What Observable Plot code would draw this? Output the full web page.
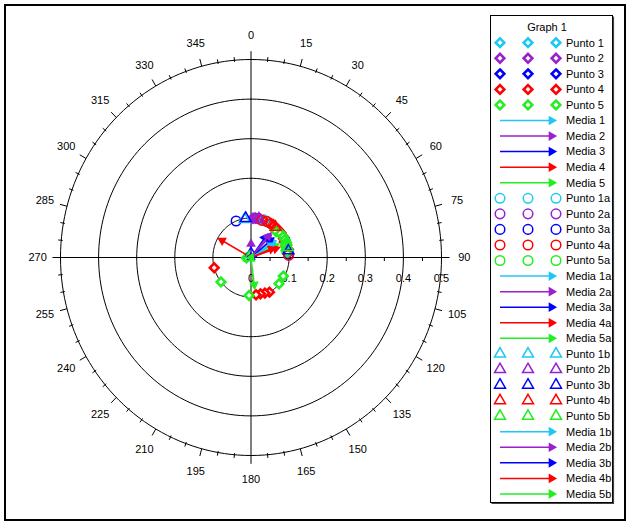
<!DOCTYPE html>
<html><head><meta charset="utf-8">
<script src="https://cdn.jsdelivr.net/npm/d3@7"></script>
<script src="https://cdn.jsdelivr.net/npm/@observablehq/plot@0.6"></script>
<style>
body{margin:0;background:#fff;font-family:"Liberation Sans",Arial,sans-serif;}
#chart{position:relative;width:629px;height:522px;}
</style></head><body><div id="chart"></div>
<script>
// ---- data: [angle (deg, clockwise from north), radius] ----
const colorNames = ["#1ec8f5", "#9b1fcc", "#0000ff", "#ff0000", "#22ee22"];
const angleLabels = [0,15,30,45,60,75,90,105,120,135,150,165,180,195,210,225,240,255,270,285,300,315,330,345];
const radialLabels = [0,0.1,0.2,0.3,0.4,0.5];
const ringRadii = [0.1,0.2,0.3,0.4,0.5];

const punto1 = [[28,0.1],[40,0.1],[52,0.1]];
const punto2 = [[3,0.099],[7,0.1],[11,0.1],[15,0.1],[20,0.1],[25,0.1]];
const punto3 = [[45,0.1],[60,0.1]];
const punto4 = [[22,0.1],[27,0.1],[32,0.1],[36,0.1],[41,0.1],[46,0.1],[51,0.1],[56,0.099],[61,0.098],[66,0.096],[72,0.098],[78,0.1],[84,0.098],[151,0.1],[158,0.097],[165,0.095],[172,0.095],[255,0.1]];
const punto5 = [[45,0.093],[52,0.098],[58,0.1],[63,0.1],[68,0.098],[72,0.095],[76,0.097],[79,0.094],[83,0.095],[119,0.097],[132,0.099],[183,0.096],[232,0.1],[265,0.012]];
const media1 = [[52,0.078]];
const media2 = [[0,0.047]];
const media3 = [[36,0.074]];
const media4 = [[299.5,0.1]];
const media5 = [[65,0.082]];
const punto1a = [[20,0.1]];
const punto2a = [[5,0.1],[10,0.1]];
const punto3a = [[337,0.1],[85,0.099]];
const punto4a = [[17,0.098],[25,0.1],[32,0.1],[87,0.099]];
const punto5a = [[70,0.1]];
const media1a = [[57,0.08]];
const media2a = [[43,0.08]];
const media3a = [[50,0.079]];
const media4a = [[71,0.081]];
const media5a = [[173,0.082]];
const punto1b = [[350,0.098]];
const punto2b = [[12,0.1]];
const punto3b = [[352,0.1],[80,0.1],[0,0.01]];
const punto4b = [[40,0.1]];
const punto5b = [[75,0.1],[270,0.005]];
const media1b = [[60,0.075]];
const media2b = [[40,0.083]];
const media3b = [[0,0.014]];
const media4b = [[68,0.07]];
const media5b = [[262,0.012]];

const series = [
  ["Punto 1","diamond",punto1,0],["Punto 2","diamond",punto2,1],["Punto 3","diamond",punto3,2],["Punto 4","diamond",punto4,3],["Punto 5","diamond",punto5,4],
  ["Media 1","arrow",media1,0],["Media 2","arrow",media2,1],["Media 3","arrow",media3,2],["Media 4","arrow",media4,3],["Media 5","arrow",media5,4],
  ["Punto 1a","circle",punto1a,0],["Punto 2a","circle",punto2a,1],["Punto 3a","circle",punto3a,2],["Punto 4a","circle",punto4a,3],["Punto 5a","circle",punto5a,4],
  ["Media 1a","arrow",media1a,0],["Media 2a","arrow",media2a,1],["Media 3a","arrow",media3a,2],["Media 4a","arrow",media4a,3],["Media 5a","arrow",media5a,4],
  ["Punto 1b","triangle",punto1b,0],["Punto 2b","triangle",punto2b,1],["Punto 3b","triangle",punto3b,2],["Punto 4b","triangle",punto4b,3],["Punto 5b","triangle",punto5b,4],
  ["Media 1b","arrow",media1b,0],["Media 2b","arrow",media2b,1],["Media 3b","arrow",media3b,2],["Media 4b","arrow",media4b,3],["Media 5b","arrow",media5b,4]
];

// ---- helpers ----
const rad = a => a*Math.PI/180;
const X = (a,r) => r*Math.sin(rad(a));
const Y = (a,r) => r*Math.cos(rad(a));

const ringPts = ringRadii.flatMap(r => d3.range(0,361,2).map(a => ({ring:r, x:X(a,r), y:Y(a,r)})));
const outerTicks = d3.range(0,360,5).filter(a => a%90 !== 0).map(a => ({a, major: a%15===0}));
const radialMinor = [0.05,0.15,0.25,0.35,0.45];

const marks = [
  Plot.line(ringPts, {x:"x", y:"y", z:"ring", stroke:"black", strokeWidth:1}),
  Plot.link([0,90], {x1:a=>X(a+180,0.521), y1:a=>Y(a+180,0.521), x2:a=>X(a,0.521), y2:a=>Y(a,0.521), stroke:"black", strokeWidth:1}),
  Plot.link(outerTicks, {x1:d=>X(d.a, d.major?0.5:0.496), y1:d=>Y(d.a, d.major?0.5:0.496), x2:d=>X(d.a, d.major?0.519:0.508), y2:d=>Y(d.a, d.major?0.519:0.508), stroke:"black", strokeWidth:1}),
  Plot.link(radialMinor, {x1:d=>d, y1:0, x2:d=>d, y2:-0.009, stroke:"black", strokeWidth:1}),
  Plot.text(radialLabels, {x:d=>d, y:0, dy:21, text:d=>String(d), fill:"black", fontSize:11}),
  Plot.text(angleLabels, {x:a=>X(a,0.56), y:a=>Y(a,0.56), text:a=>String(a), fill:"black", fontSize:11})
];

const HEAD_BACK = 5/390;
for (const [name, kind, data, ci] of series) {
  const c = colorNames[ci];
  if (kind === "arrow") {
    marks.push(Plot.link(data, {x1:0, y1:0, x2:d=>X(d[0], d[1]-HEAD_BACK), y2:d=>Y(d[0], d[1]-HEAD_BACK), stroke:c, strokeWidth:1.5}));
    marks.push(Plot.dot(data, {x:d=>X(d[0], d[1]-HEAD_BACK), y:d=>Y(d[0], d[1]-HEAD_BACK), symbol:"triangle", r:3.6, fill:c, stroke:"none", rotate:d=>d[0]}));
  } else if (kind === "diamond") {
    marks.push(Plot.dot(data, {x:d=>X(d[0],d[1]), y:d=>Y(d[0],d[1]), symbol:"diamond2", r:3.9, stroke:c, strokeWidth:2.6, fill:"white"}));
  } else if (kind === "circle") {
    marks.push(Plot.dot(data, {x:d=>X(d[0],d[1]), y:d=>Y(d[0],d[1]), symbol:"circle", r:4.8, stroke:c, strokeWidth:1.5, fill:"none"}));
  } else {
    marks.push(Plot.dot(data, {x:d=>X(d[0],d[1]), y:d=>Y(d[0],d[1]), symbol:"triangle2", r:5.2, stroke:c, strokeWidth:1.5, fill:"none"}));
  }
}

const chart = Plot.plot({
  width:629, height:522,
  marginTop:0, marginRight:0, marginBottom:0, marginLeft:0,
  x:{domain:[-0.5,0.5], range:[60,441], axis:null},
  y:{domain:[-0.5,0.5], range:[455,59], axis:null},
  style:{fontFamily:'"Liberation Sans", Arial, sans-serif', fontSize:"11px", background:"white", overflow:"visible"},
  marks
});
document.getElementById("chart").appendChild(chart);

// ---- frame and legend ----
const svg = d3.select(chart);
svg.append("rect").attr("x",5).attr("y",5).attr("width",620).attr("height",515)
  .attr("fill","none").attr("stroke","black").attr("stroke-width",2);

const lg = svg.append("g").attr("font-family",'"Liberation Sans", Arial, sans-serif').attr("font-size",11).attr("text-anchor","start");
lg.append("rect").attr("x",490.5).attr("y",15.5).attr("width",122).attr("height",487).attr("fill","white").attr("stroke","black");
lg.append("path").attr("d","M613.5,16.5 V503.5 H491.5").attr("fill","none").attr("stroke","#444").attr("stroke-width",1.2);
lg.append("text").attr("x",547).attr("y",27).attr("text-anchor","middle").attr("dy","0.35em").text("Graph 1");
const symPath = (type, r) => d3.symbol(type, Math.PI*r*r)();
series.forEach(([name, kind, data, ci], i) => {
  const c = colorNames[ci];
  const y = 42.7 + i*15.56;
  const g = lg.append("g").attr("transform",`translate(0,${y})`);
  if (kind === "arrow") {
    g.append("line").attr("x1",500).attr("x2",550).attr("y1",0).attr("y2",0).attr("stroke",c).attr("stroke-width",1.5);
    g.append("path").attr("d", symPath(d3.symbolTriangle,3.6)).attr("transform","translate(551.5,0) rotate(90)").attr("fill",c);
  } else {
    for (const x of [500, 528, 556]) {
      if (kind === "diamond") g.append("path").attr("d", symPath(d3.symbolDiamond2,3.9)).attr("transform",`translate(${x},0)`).attr("fill","white").attr("stroke",c).attr("stroke-width",2.6);
      else if (kind === "circle") g.append("path").attr("d", symPath(d3.symbolCircle,4.8)).attr("transform",`translate(${x},0)`).attr("fill","none").attr("stroke",c).attr("stroke-width",1.5);
      else g.append("path").attr("d", symPath(d3.symbolTriangle2,5.2)).attr("transform",`translate(${x},0)`).attr("fill","none").attr("stroke",c).attr("stroke-width",1.5);
    }
  }
  g.append("text").attr("x",566).attr("y",0).attr("dy","0.35em").attr("text-anchor","start").text(name);
});
</script></body></html>
